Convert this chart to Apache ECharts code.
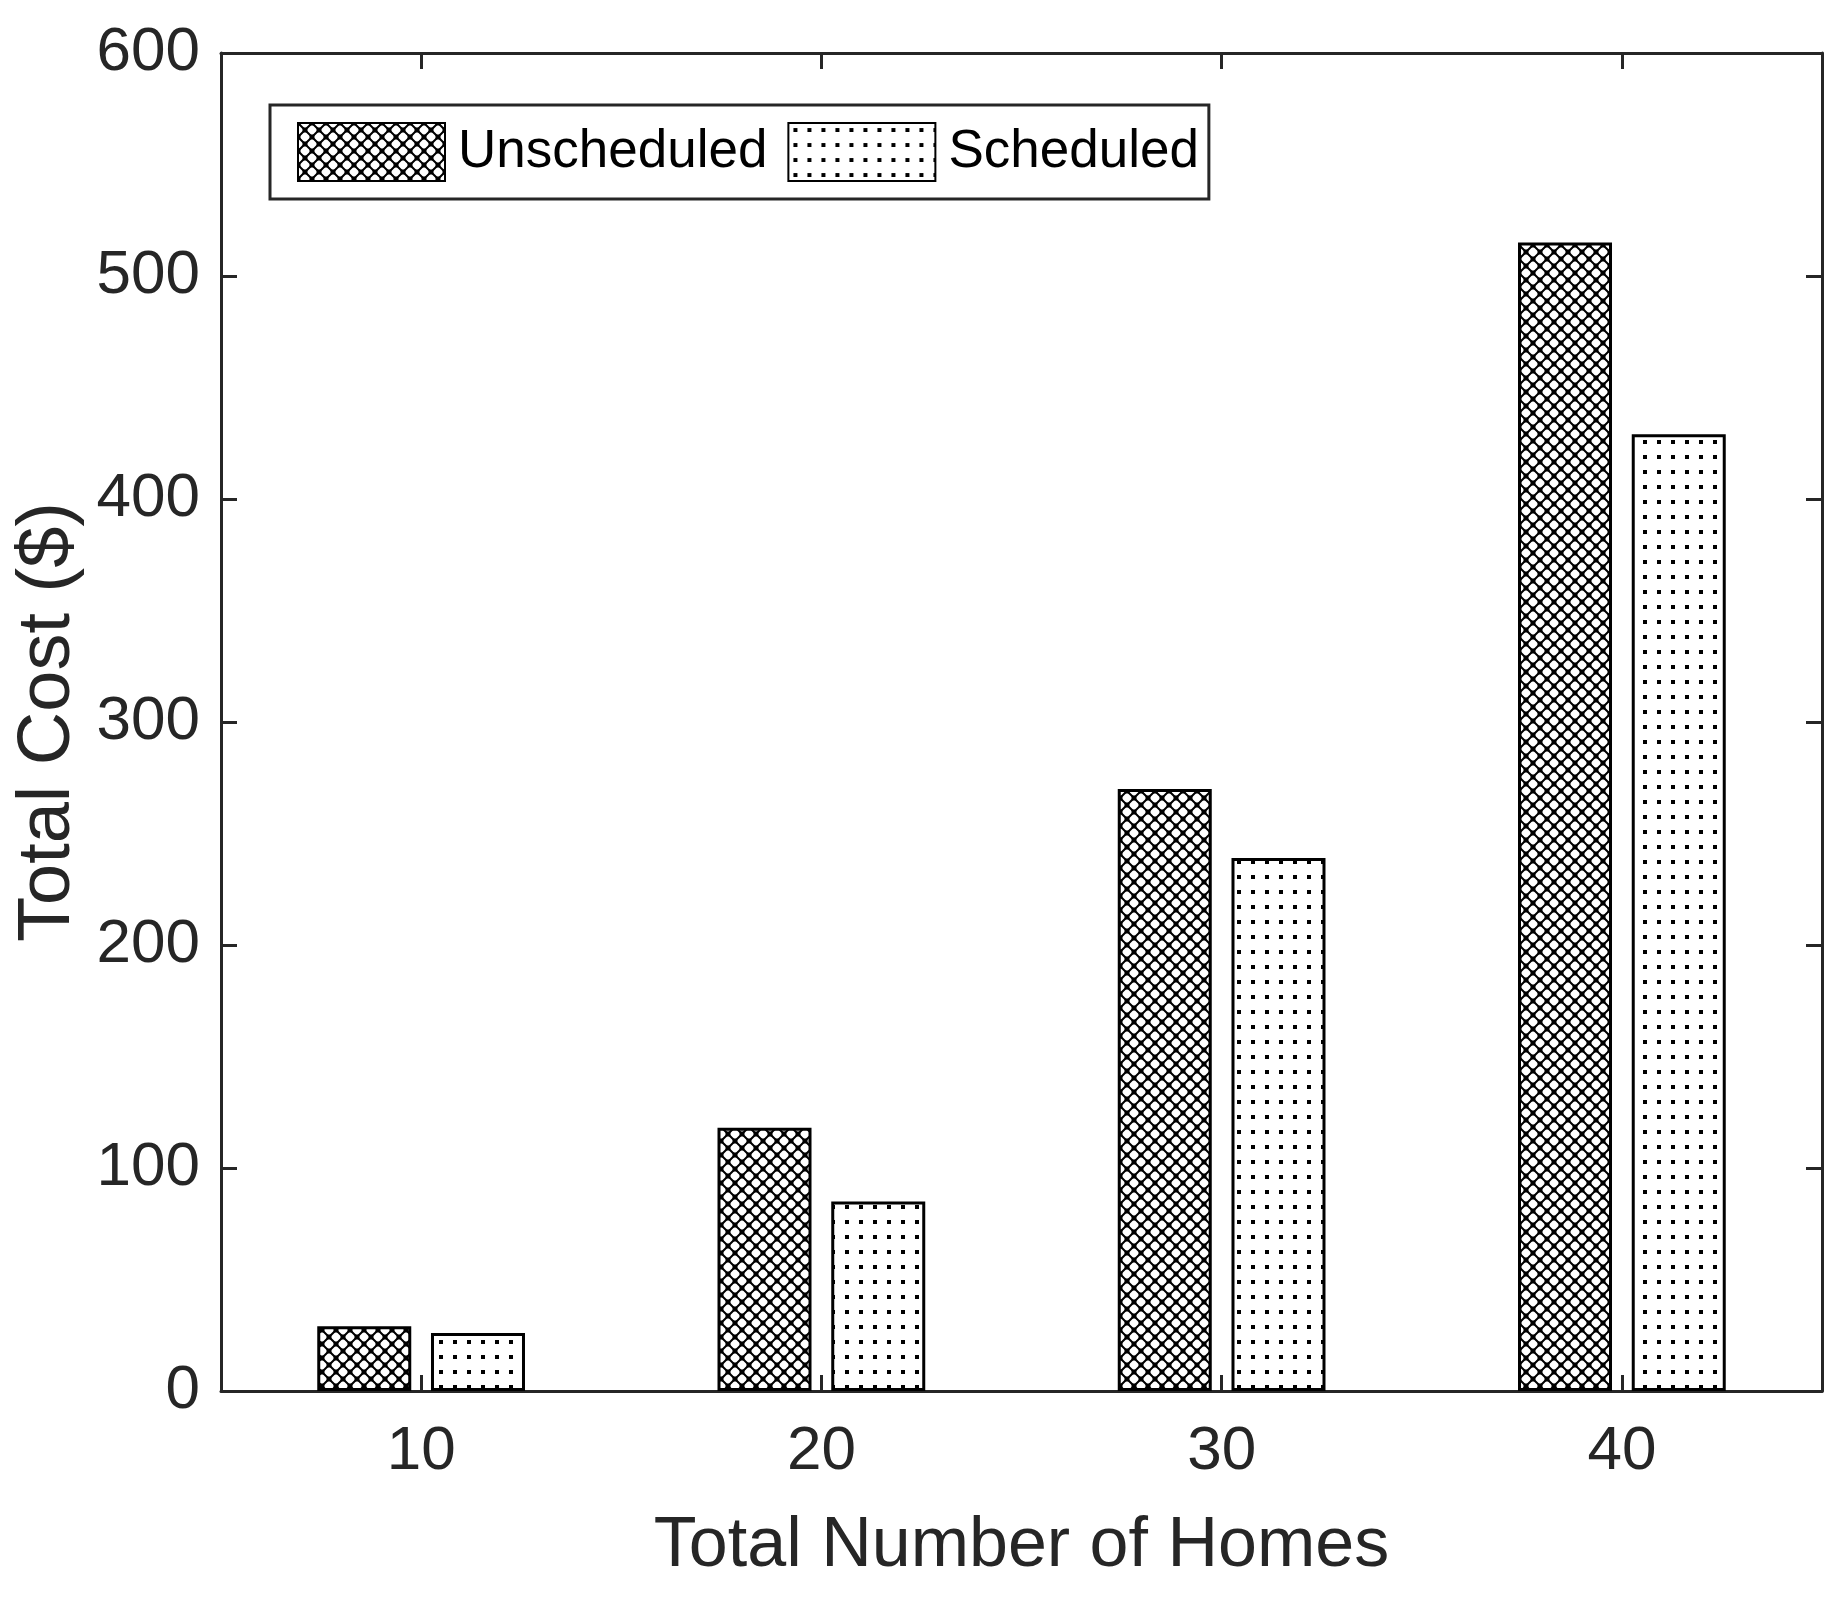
<!DOCTYPE html>
<html>
<head>
<meta charset="utf-8">
<script src="https://cdn.jsdelivr.net/npm/echarts@6/dist/echarts.min.js"></script>
<style>
html,body{margin:0;padding:0;background:#fff;}
#chart{width:1839px;height:1599px;}
</style>
</head>
<body>
<div id="chart"></div>
<script>
// ---- data ----
const categories = ['10', '20', '30', '40'];
const unscheduled = [29, 118, 270, 515];
const scheduled = [26, 85, 239, 429];
const seriesNames = ['Unscheduled', 'Scheduled'];
const xTitle = 'Total Number of Homes';
const yTitle = 'Total Cost ($)';
const yMin = 0, yMax = 600, yInterval = 100;

// ---- patterns ----
function crossPattern() {
  const c = document.createElement('canvas');
  c.width = 14; c.height = 14;
  const g = c.getContext('2d');
  g.fillStyle = '#fff'; g.fillRect(0, 0, 14, 14);
  g.strokeStyle = '#000'; g.lineWidth = 2;
  g.beginPath();
  g.moveTo(0, 0); g.lineTo(14, 14);
  g.moveTo(14, 0); g.lineTo(0, 14);
  g.stroke();
  g.fillStyle = '#000';
  [[0,0],[14,0],[0,14],[14,14],[7,7]].forEach(function(p){ g.fillRect(p[0]-2.5, p[1]-2.5, 5, 5); });
  return c;
}
function dotPattern() {
  const c = document.createElement('canvas');
  c.width = 14; c.height = 15;
  const g = c.getContext('2d');
  g.fillStyle = '#fff'; g.fillRect(0, 0, 14, 15);
  g.fillStyle = '#000';
  g.fillRect(5, 5, 4, 4);
  return c;
}

const FONT = "'Liberation Sans', Arial, Helvetica, sans-serif";
const AX = '#262626';

function axisLineStyle() { return {show: true, onZero: false, lineStyle: {color: AX, width: 3}}; }
function tickStyle(extra) {
  return Object.assign({show: true, inside: true, length: 16, lineStyle: {color: AX, width: 3}}, extra || {});
}

const chart = echarts.init(document.getElementById('chart'), null, {renderer: 'canvas'});

chart.setOption({
  backgroundColor: '#fff',
  animation: false,
  grid: {left: 221, right: 17, top: 53, bottom: 208, containLabel: false},
  legend: {
    left: 270, top: 105,
    orient: 'horizontal',
    icon: 'rect',
    itemWidth: 147, itemHeight: 58, itemGap: 20,
    padding: [17, 10, 17, 27],
    borderColor: AX, borderWidth: 3, backgroundColor: '#fff',
    textStyle: {fontFamily: FONT, fontSize: 53, color: '#000', padding: [0, 0, 0, 8]},
    data: seriesNames
  },
  xAxis: [{
    type: 'category', data: categories, position: 'bottom',
    axisLine: axisLineStyle(),
    axisTick: tickStyle({alignWithLabel: true}),
    axisLabel: {fontFamily: FONT, fontSize: 62, color: AX, margin: 30},
    name: xTitle, nameLocation: 'middle', nameGap: 121,
    nameTextStyle: {fontFamily: FONT, fontSize: 70, color: AX},
    splitLine: {show: false}
  }, {
    type: 'category', data: categories, position: 'top',
    axisLine: axisLineStyle(),
    axisTick: tickStyle({alignWithLabel: true}),
    axisLabel: {show: false},
    splitLine: {show: false}
  }],
  yAxis: [{
    type: 'value', min: yMin, max: yMax, interval: yInterval, position: 'left',
    axisLine: axisLineStyle(),
    axisTick: tickStyle(),
    axisLabel: {fontFamily: FONT, fontSize: 62, color: AX, margin: 21},
    splitLine: {show: false},
    name: yTitle, nameLocation: 'middle', nameGap: 126,
    nameTextStyle: {fontFamily: FONT, fontSize: 74, color: AX}
  }, {
    type: 'value', min: yMin, max: yMax, interval: yInterval, position: 'right',
    axisLine: axisLineStyle(),
    axisTick: tickStyle(),
    axisLabel: {show: false},
    splitLine: {show: false}
  }],
  series: [{
    name: seriesNames[0], type: 'bar', data: unscheduled,
    xAxisIndex: 0, yAxisIndex: 0,
    barWidth: 94, barGap: '21%',
    itemStyle: {color: {image: crossPattern(), repeat: 'repeat'}, borderColor: '#000', borderWidth: 3}
  }, {
    name: seriesNames[1], type: 'bar', data: scheduled,
    xAxisIndex: 0, yAxisIndex: 0,
    barWidth: 94, barGap: '21%',
    itemStyle: {color: {image: dotPattern(), repeat: 'repeat'}, borderColor: '#000', borderWidth: 3}
  }]
});
</script>
</body>
</html>
